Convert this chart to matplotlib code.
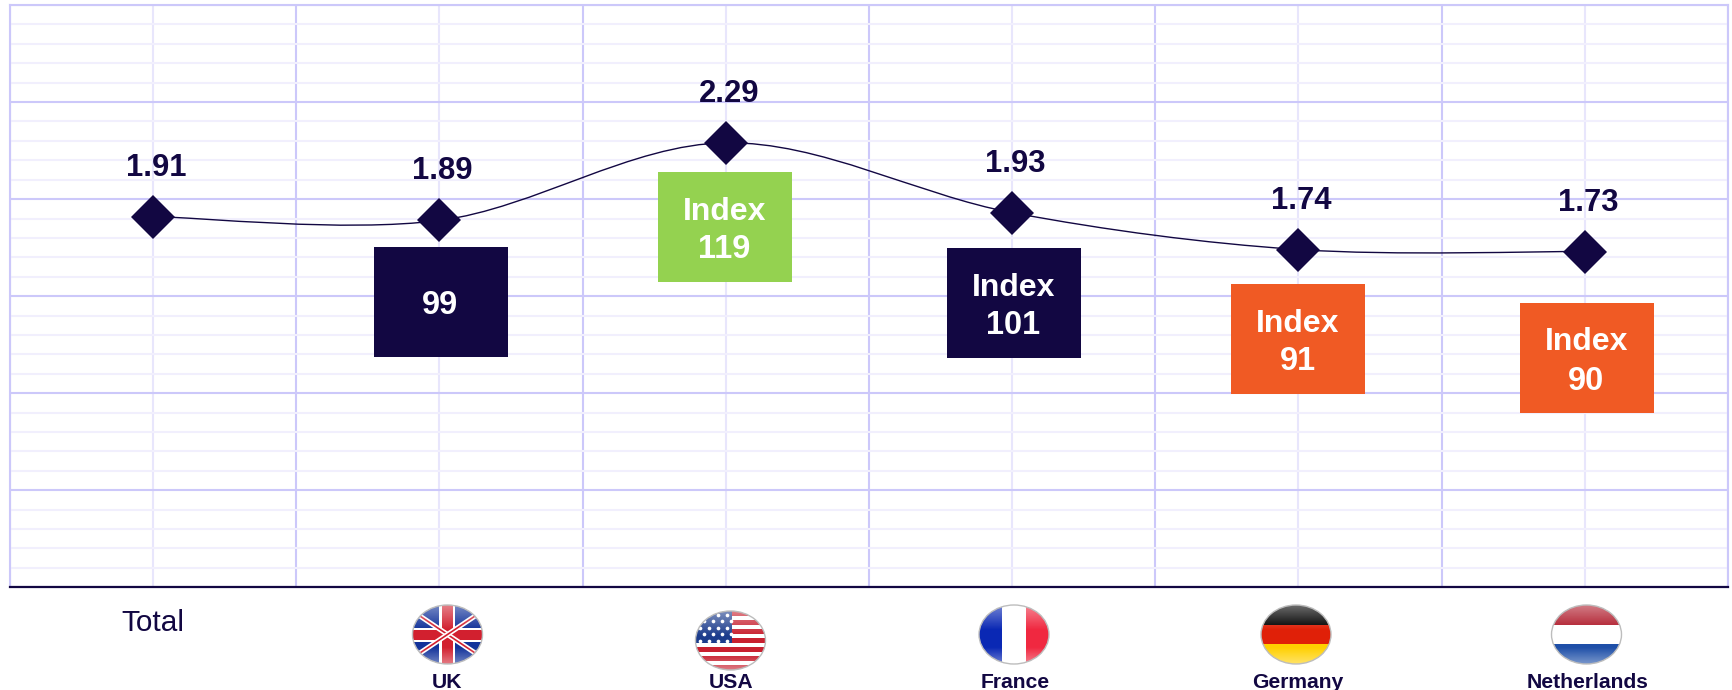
import numpy as np
import matplotlib
matplotlib.use("Agg")
import matplotlib.pyplot as plt
from matplotlib.patches import Ellipse, PathPatch, Rectangle
from matplotlib.path import Path

plt.rcParams['font.family'] = ['Liberation Sans', 'DejaVu Sans']

# data
countries = ["Total", "UK", "USA", "France", "Germany", "Netherlands"]
values = [1.91, 1.89, 2.29, 1.93, 1.74, 1.73]
index_labels = ["99", "Index\n119", "Index\n101", "Index\n91", "Index\n90"]

NAVY = "#120742"
GREEN = "#94D250"
ORANGE = "#F05A24"
MAJOR = "#CCC8FA"
MINOR = "#F1EFFD"
MINOR_V = "#E8E6FC"

W, H = 1733, 690
fig = plt.figure(figsize=(W / 100, H / 100), dpi=100)

# plot area, in pixels of the reference
left, right, top, bottom = 10, 1728, 5, 587.3
ax = fig.add_axes([left / W, 1 - bottom / H, (right - left) / W, (bottom - top) / H])
ax.set_xlim(-0.5, 5.5)
ax.set_ylim(0, 3)

ax.set_xticks(np.arange(-0.5, 6, 1))
ax.set_xticks(range(6), minor=True)
ax.set_yticks(np.arange(0, 3.01, 0.5))
ax.set_yticks(np.arange(0, 3.01, 0.1), minor=True)
ax.tick_params(which="both", length=0, labelbottom=False, labelleft=False)
ax.grid(which="major", color=MAJOR, lw=1.5, zorder=1)
ax.yaxis.grid(which="minor", color=MINOR, lw=1.5, zorder=0.5)
ax.xaxis.grid(which="minor", color=MINOR_V, lw=1.5, zorder=0.6)
ax.set_axisbelow(True)
for side in ["left", "right", "top"]:
    ax.spines[side].set_color(MAJOR)
    ax.spines[side].set_linewidth(1.5)
ax.spines["bottom"].set_color(NAVY)
ax.spines["bottom"].set_linewidth(1.6)

# smoothed line like the office charts do it
pts = [(i, v) for i, v in enumerate(values)]
verts = [pts[0]]
codes = [Path.MOVETO]
for i in range(len(pts) - 1):
    p0 = np.array(pts[max(i - 1, 0)])
    p1 = np.array(pts[i])
    p2 = np.array(pts[i + 1])
    p3 = np.array(pts[min(i + 2, len(pts) - 1)])
    verts += [tuple(p1 + (p2 - p0) / 6), tuple(p2 - (p3 - p1) / 6), tuple(p2)]
    codes += [Path.CURVE4] * 3
ax.add_patch(PathPatch(Path(verts, codes), fc="none", ec=NAVY, lw=1.0, zorder=3))

ax.plot(range(6), values, ls="none", marker="D", ms=21.9, color=NAVY, mew=0, zorder=4)

for i, v in enumerate(values):
    ax.annotate(f"{v:.2f}", xy=(i, v), xytext=(3, 49), textcoords="offset pixels",
                ha="center", va="center", fontsize=22.3, fontweight="bold", color=NAVY, zorder=5)

# overlay in pixel coordinates for boxes, flags and labels
ov = fig.add_axes([0, 0, 1, 1], zorder=5)
ov.patch.set_alpha(0)
ov.axis("off")

box_colors = [NAVY, GREEN, NAVY, ORANGE, ORANGE]
box_left = [374, 658, 947, 1231, 1520]
box_top = [247, 172, 248, 284, 303]
for lab, col, x0, y0 in zip(index_labels, box_colors, box_left, box_top):
    ov.add_patch(Rectangle((x0, y0), 134, 109.5, fc=col, ec="none"))
    lines = lab.split("\n")
    cx = x0 + 66.5
    if len(lines) == 1:
        ov.text(cx, y0 + 58, lines[0], ha="center", va="center", color="white",
                fontsize=23.5, fontweight="bold")
    else:
        ov.text(cx, y0 + 39.5, lines[0], ha="center", va="center", color="white",
                fontsize=23, fontweight="bold")
        ov.text(cx, y0 + 78, lines[1], ha="center", va="center", color="white",
                fontsize=23.5, fontweight="bold")


def stripes(x0, y0, w, h, cols, clip, horizontal=True):
    n = len(cols)
    for k, c in enumerate(cols):
        if horizontal:
            r = Rectangle((x0, y0 + k * h / n), w, h / n + 0.5, fc=c, ec="none")
        else:
            r = Rectangle((x0 + k * w / n, y0), w / n + 0.5, h, fc=c, ec="none")
        ov.add_patch(r)
        r.set_clip_path(clip)


def gloss(x0, y0, w, h, clip):
    # white wash at the top and a soft glow at the bottom of the ball
    t = np.linspace(0, 1, 60)
    alpha = np.clip(0.42 * (1 - t / 0.42), 0, 1) + np.clip(0.4 * (t - 0.72) / 0.28, 0, 1)
    a = np.ones((60, 2, 4))
    a[:, 0, 3] = alpha
    a[:, 1, 3] = alpha
    im = ov.imshow(a, extent=(x0, x0 + w, y0 + h, y0), aspect="auto", interpolation="bilinear", zorder=3)
    im.set_clip_path(clip)


def draw_flag(name, x0, y0, w=70, h=59):
    cx, cy = x0 + w / 2, y0 + h / 2
    clip = Ellipse((cx, cy), w, h, fc="white", ec="none")
    ov.add_patch(clip)
    if name == "UK":
        stripes(x0, y0, w, h, ["#12329A"], clip)
        for sx in (1, -1):
            l1, = ov.plot([cx - sx * w / 2, cx + sx * w / 2], [y0 + 6, y0 + h - 6], color="white", lw=3.6, solid_capstyle="butt")
            l2, = ov.plot([cx - sx * w / 2, cx + sx * w / 2], [y0 + 6, y0 + h - 6], color="#D2202F", lw=1.2, solid_capstyle="butt")
            l1.set_clip_path(clip)
            l2.set_clip_path(clip)
        for r in [Rectangle((x0, cy - 7), w, 14, fc="white", ec="none"),
                  Rectangle((cx - 8, y0), 16, h, fc="white", ec="none"),
                  Rectangle((x0, cy - 5), w, 10, fc="#D2202F", ec="none"),
                  Rectangle((cx - 5.5, y0), 11, h, fc="#D2202F", ec="none")]:
            ov.add_patch(r)
            r.set_clip_path(clip)
    elif name == "USA":
        cols = ["#C8202F", "white"] * 6 + ["#C8202F"]
        stripes(x0, y0, w, h, cols, clip)
        r = Rectangle((x0, y0), w * 0.52, h * 7 / 13, fc="#1C3C8C", ec="none")
        ov.add_patch(r)
        r.set_clip_path(clip)
        for row in range(5):
            for c in range(4):
                sc = ov.scatter(x0 + 5 + c * 9 + (row % 2) * 4, y0 + 4 + row * 6.4, s=7, color="white", lw=0, zorder=2)
                sc.set_clip_path(clip)
    elif name == "France":
        stripes(x0, y0, w, h, ["#0A28B4", "white", "#F02840"], clip, horizontal=False)
    elif name == "Germany":
        stripes(x0, y0, w, h, ["#000000", "#E02008", "#FFD000"], clip)
    elif name == "Netherlands":
        stripes(x0, y0, w, h, ["#B01C2C", "white", "#1E4FA8"], clip)
    gloss(x0, y0, w, h, clip)
    ov.add_patch(Ellipse((cx, cy), w, h, fc="none", ec="#BDBDBD", lw=1, zorder=4))


flag_left = [412.5, 695.5, 979, 1261, 1551.5]
flag_top = [605, 611, 605, 605, 605]
for name, x0, y0 in zip(countries[1:], flag_left, flag_top):
    draw_flag(name, x0, y0)

ov.text(152.5, 623, countries[0], ha="center", va="center", fontsize=21.4, color=NAVY)
label_x = [447, 730.7, 1015, 1298, 1588]
for name, x in zip(countries[1:], label_x):
    ov.text(x, 682, name, ha="center", va="center", fontsize=15.2, fontweight="bold", color=NAVY)

ov.set_xlim(0, W)
ov.set_ylim(H, 0)

fig.savefig("out.png", dpi=100)
